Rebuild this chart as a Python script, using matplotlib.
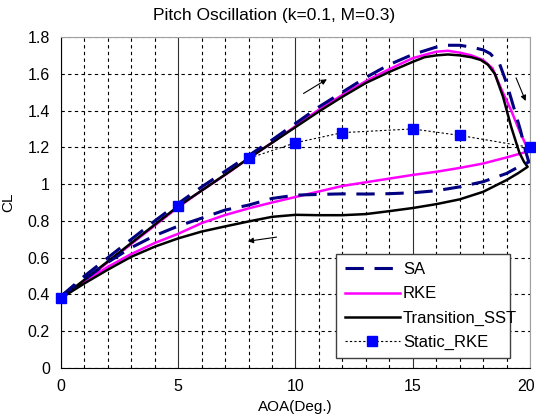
import numpy as np
import matplotlib.pyplot as plt
import matplotlib.transforms as mtransforms

plt.rcParams['font.family'] = ['Liberation Sans', 'DejaVu Sans']

# hysteresis loops: upstroke then downstroke, AOA in deg
sa_aoa = [0, 1, 2, 3, 4, 5, 6, 7, 8, 9, 10, 11, 12, 13, 14, 15, 16, 16.5, 17, 17.5, 18, 18.3, 18.7, 19.0, 19.3, 19.6, 19.8, 19.95,
          19.6, 19, 18, 17, 16, 15, 14, 13, 12, 11, 10, 9, 8, 7, 6, 5, 4, 3, 2, 1, 0]
sa_cl = [0.39, 0.50, 0.60, 0.70, 0.80, 0.895, 0.985, 1.07, 1.155, 1.24, 1.33, 1.42, 1.50, 1.58, 1.65, 1.705, 1.745, 1.755, 1.755, 1.745, 1.73, 1.71, 1.655, 1.55, 1.42, 1.29, 1.185, 1.12,
         1.10, 1.058, 1.013, 0.985, 0.964, 0.953, 0.948, 0.946, 0.947, 0.944, 0.94, 0.922, 0.886, 0.859, 0.815, 0.772, 0.72, 0.655, 0.575, 0.48, 0.39]

rke_aoa = [0, 1, 2, 3, 4, 5, 6, 7, 8, 9, 10, 11, 12, 13, 14, 15, 16, 16.5, 17, 17.5, 18, 18.4, 18.8, 19.2, 19.55, 19.8, 20,
           19.7, 19, 18, 17, 16, 15, 14, 13, 12, 11, 10, 9, 8, 7, 6, 5, 4, 3, 2, 1, 0]
rke_cl = [0.38, 0.475, 0.575, 0.675, 0.775, 0.875, 0.965, 1.05, 1.14, 1.225, 1.315, 1.405, 1.485, 1.56, 1.625, 1.685, 1.72, 1.725, 1.715, 1.70, 1.675, 1.63, 1.51, 1.40, 1.29, 1.22, 1.185,
          1.17, 1.145, 1.112, 1.088, 1.067, 1.05, 1.03, 1.01, 0.99, 0.96, 0.93, 0.90, 0.868, 0.832, 0.788, 0.73, 0.68, 0.62, 0.55, 0.47, 0.38]

sst_aoa = [0, 1, 2, 3, 4, 5, 6, 7, 8, 9, 10, 11, 12, 13, 14, 15, 15.5, 16, 16.5, 17, 17.5, 17.9, 18.2, 18.5, 18.85, 19.2, 19.55, 19.75, 19.9,
           19.5, 19, 18, 17, 16, 15, 14, 13, 12, 11, 10, 9, 8, 7, 6, 5, 4, 3, 2, 1, 0]
sst_cl = [0.38, 0.48, 0.58, 0.68, 0.78, 0.88, 0.965, 1.052, 1.14, 1.225, 1.31, 1.395, 1.475, 1.55, 1.61, 1.665, 1.69, 1.70, 1.705, 1.70, 1.69, 1.675, 1.65, 1.60, 1.475, 1.31, 1.17, 1.12, 1.094,
          1.06, 1.022, 0.958, 0.917, 0.891, 0.87, 0.853, 0.837, 0.831, 0.831, 0.833, 0.822, 0.797, 0.77, 0.742, 0.705, 0.66, 0.605, 0.535, 0.46, 0.38]

static_aoa = [0, 5, 8, 10, 12, 15, 17, 20]
static_cl = [0.38, 0.88, 1.14, 1.225, 1.28, 1.30, 1.265, 1.20]

# direction arrows (tail, head)
arrows = [((10.24, 1.485), (11.44, 1.578)),
          ((19.36, 1.592), (19.86, 1.438)),
          ((9.31, 0.714), (7.85, 0.687))]

fig = plt.figure(figsize=(5.36, 4.19), dpi=100)
ax = fig.add_axes([0.1138, 0.1217, 0.875, 0.790])

ax.plot(sa_aoa, sa_cl, color='#000080', lw=2.2, ls=(0, (6, 3.5)), label='SA', zorder=4)
ax.plot(rke_aoa, rke_cl, color='#ff00ff', lw=1.8, label='RKE', zorder=3)
ax.plot(sst_aoa, sst_cl, color='black', lw=1.8, label='Transition_SST', zorder=3)
ax.plot(static_aoa, static_cl, color='black', lw=0.8, ls=(0, (2, 2)), marker='s', ms=6.5,
        mfc='#0000ff', mec='#0000ff', label='Static_RKE', zorder=5, clip_on=False)

for tail, head in arrows:
    ax.annotate('', xy=head, xytext=tail,
                arrowprops=dict(arrowstyle='-|>', color='black', lw=0.8, mutation_scale=8))

ax.set_xlim(0, 20)
ax.set_ylim(0, 1.8)
ax.set_xticks(range(0, 21, 5))
ax.set_xticks(range(0, 21), minor=True)
ax.set_yticks(np.arange(0, 1.81, 0.2))
ax.set_yticklabels(['0', '0.2', '0.4', '0.6', '0.8', '1', '1.2', '1.4', '1.6', '1.8'])

ax.grid(which='major', axis='x', color='#303030', lw=0.8, ls='-')
ax.grid(which='minor', axis='x', color='black', lw=0.8, ls=(0, (3, 3)))
ax.grid(which='major', axis='y', color='black', lw=0.8, ls=(0, (3, 3)))
ax.set_axisbelow(True)

ax.tick_params(which='both', length=0, labelsize=11.5, colors='black', pad=8)

# keep the last x label inside the figure edge
last = ax.get_xticklabels()[-1]
last.set_transform(last.get_transform() + mtransforms.ScaledTranslation(-4 / 100, 0, fig.dpi_scale_trans))

ax.spines['left'].set_color('black')
ax.spines['bottom'].set_color('black')
ax.spines['top'].set_color('#a0a0a0')
ax.spines['right'].set_color('#a0a0a0')

ax.set_xlabel('AOA(Deg.)', fontsize=11, labelpad=4)
ax.set_ylabel('CL', fontsize=11)
ax.yaxis.set_label_coords(-0.098, 0.5)
fig.text(0.511, 0.962, 'Pitch Oscillation (k=0.1, M=0.3)', ha='center', va='center', fontsize=12.5)

leg = ax.legend(loc='lower left', bbox_to_anchor=(0.569, 0.004, 0.406, 0.35), mode='expand',
                fontsize=12, handlelength=3.3, handletextpad=0.2, labelspacing=0.55,
                borderpad=0.5, fancybox=False, framealpha=1, edgecolor='#404040')
leg.get_frame().set_linewidth(1.0)

plt.savefig('out.png', dpi=100)
